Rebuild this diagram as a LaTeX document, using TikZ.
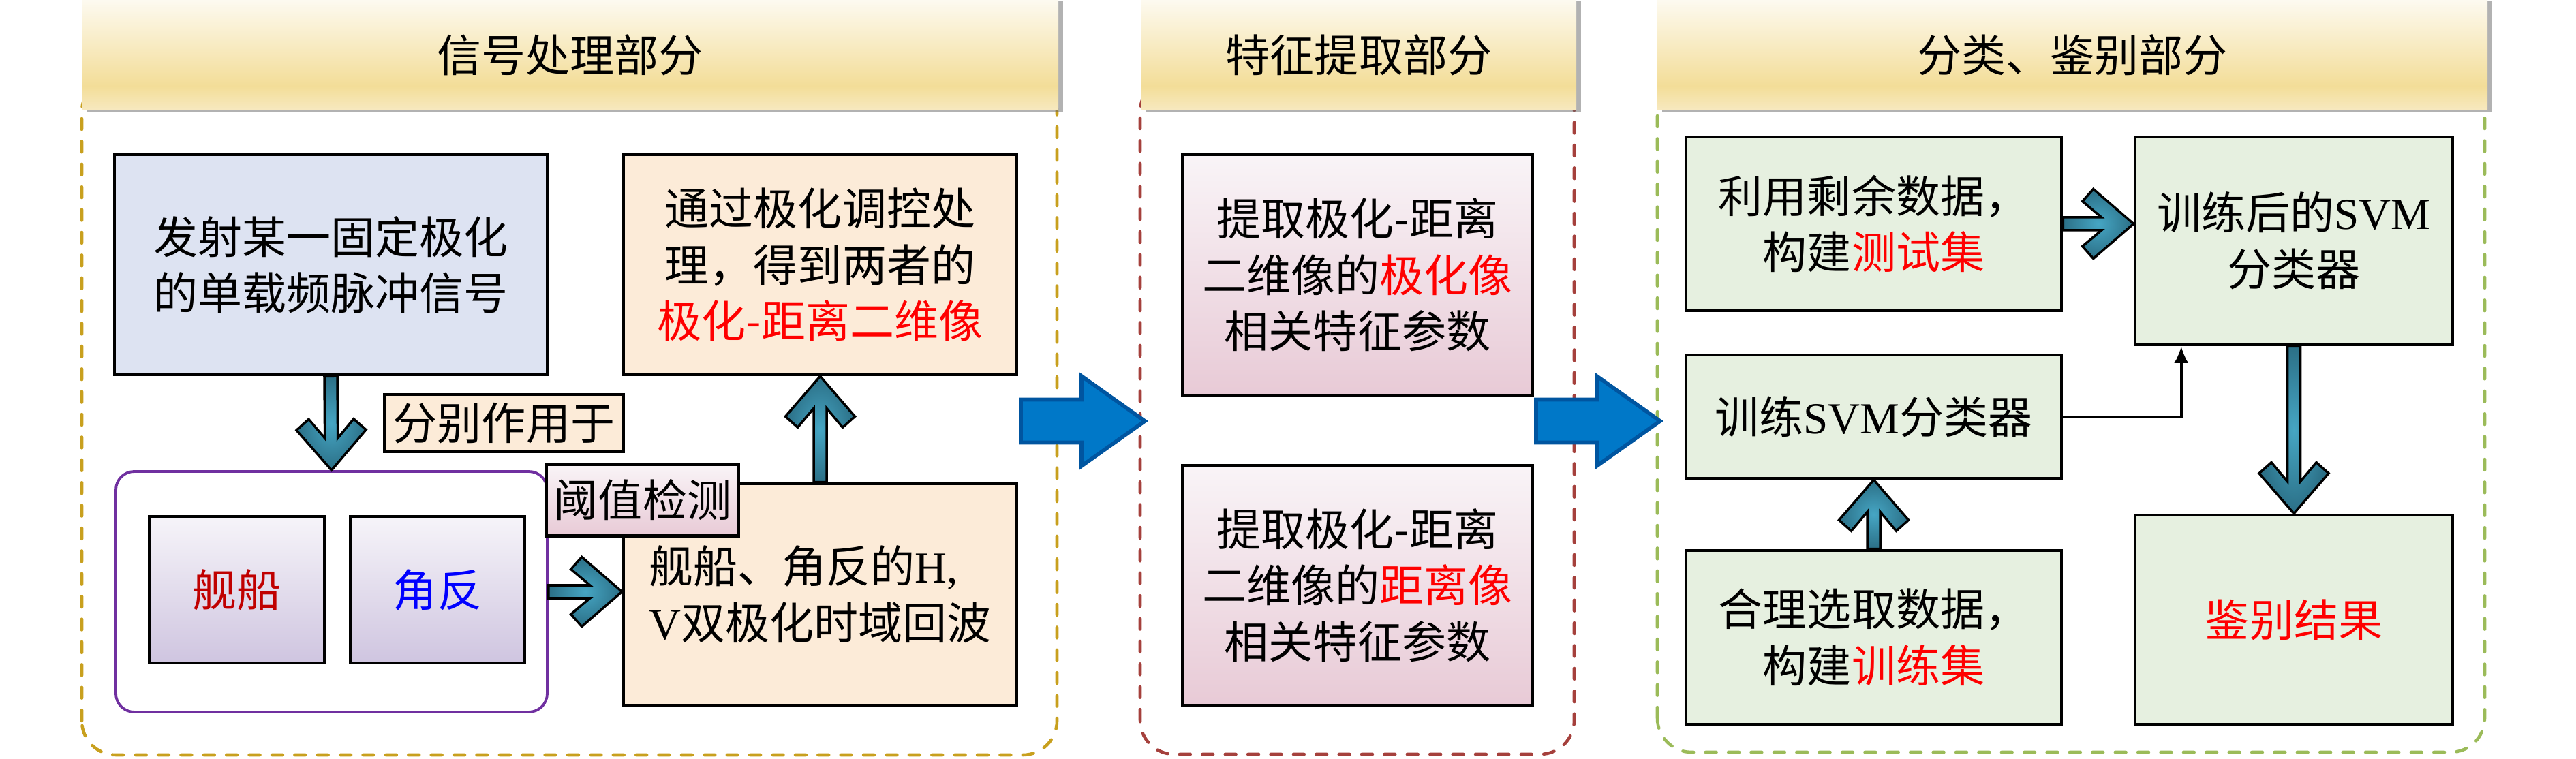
\documentclass[tikz,border=0pt]{standalone}
\usepackage{fontspec}
\usepackage{tikz}
\usetikzlibrary{calc}
\usetikzlibrary{shadows}
\usetikzlibrary{arrows.meta}
\usetikzlibrary{positioning}
\newfontfamily\cjk{Noto Sans CJK SC}
\newfontfamily\lat{Liberation Serif}
\definecolor{hdrTop}{RGB}{253,250,240}
\definecolor{hdrGold}{RGB}{243,221,152}
\definecolor{hdrBot}{RGB}{247,233,192}
\definecolor{frameGold}{RGB}{200,160,30}
\definecolor{frameRed}{RGB}{165,64,60}
\definecolor{frameGreen}{RGB}{155,187,89}
\definecolor{sendBlue}{RGB}{221,227,242}
\definecolor{resOrange}{RGB}{252,235,216}
\definecolor{pinkTop}{RGB}{249,244,247}
\definecolor{pinkBot}{RGB}{232,202,214}
\definecolor{lavTop}{RGB}{246,244,249}
\definecolor{lavBot}{RGB}{207,197,224}
\definecolor{svmGreen}{RGB}{230,240,224}
\definecolor{rimPurple}{RGB}{112,48,160}
\definecolor{shipRed}{RGB}{192,0,0}
\definecolor{tealDark}{RGB}{43,111,134}
\definecolor{tealLight}{RGB}{70,166,196}
\definecolor{bigFill}{RGB}{0,120,200}
\definecolor{bigLine}{RGB}{0,85,160}
\pgfdeclareverticalshading{hdrshade}{100bp}{color(0bp)=(hdrBot); color(25bp)=(hdrBot);
  color(36bp)=(hdrGold); color(75bp)=(hdrTop); color(100bp)=(hdrTop)}
\newcommand{\boxfont}{\cjk\fontsize{18.5}{23.5}\selectfont}
\newcommand{\chevarrow}[2]{%
  \filldraw[tealarrow] ($(#1)!0.095cm!90:(#2)$)
    -- ($(#2)!0.47cm!(#1)!0.095cm!90:(#2)$)
    -- ($(#2)!0.75cm!(#1)!0.33cm!90:(#2)$)
    -- ($(#2)!0.59cm!(#1)!0.51cm!90:(#2)$)
    -- (#2)
    -- ($(#2)!0.59cm!(#1)!0.51cm!-90:(#2)$)
    -- ($(#2)!0.75cm!(#1)!0.33cm!-90:(#2)$)
    -- ($(#2)!0.47cm!(#1)!0.095cm!-90:(#2)$)
    -- ($(#1)!0.095cm!-90:(#2)$) -- cycle;}

\begin{document}
\begin{tikzpicture}[
  box/.style={draw, line width=1.3pt, inner sep=0pt, align=center, font=\boxfont},
  header/.style={shading=hdrshade, inner sep=0pt, minimum height=1.62cm, font=\boxfont,
    drop shadow={shadow xshift=0.07cm, shadow yshift=-0.02cm, fill=black!60}},
  frame/.style={line width=1.3pt, dash pattern=on 4.5pt off 5pt, line cap=round, rounded corners=0.5cm},
  tealarrow/.style={line width=1pt, inner color=tealLight, outer color=tealDark},
  bigarrow/.style={fill=bigFill, draw=bigLine, line width=1.6pt, line join=miter}
]
  \useasboundingbox (0,0) rectangle (37.8,11.14);

  \draw[frame, frameGold]  (1.20,0.06) rectangle (15.51,10.0);
  \draw[frame, frameRed]   (16.73,0.07) rectangle (23.10,10.0);
  \draw[frame, frameGreen] (24.32,0.10) rectangle (36.46,10.0);

  \node[header, minimum width=14.33cm] (hdrsig) at (8.365,10.33) {信号处理部分};
  \node[header, minimum width=6.38cm]  (hdrfeat) at (19.94,10.33) {特征提取部分};
  \node[header, minimum width=12.18cm] (hdrcls) at (30.41,10.33) {分类、鉴别部分};

  \node[box, fill=sendBlue, minimum width=6.35cm, minimum height=3.23cm] (send) at (4.855,7.255)
    {发射某一固定极化\\的单载频脉冲信号};
  \node[box, fill=resOrange, minimum width=5.77cm, minimum height=3.23cm] (image) at (12.035,7.255)
    {通过极化调控处\\理，得到两者的\\\textcolor{red}{极化-距离二维像}};
  \node[box, fill=resOrange, minimum width=5.77cm, minimum height=3.25cm, align=left] (echo) at (12.035,2.415)
    {舰船、角反的{\lat H,}\\{\lat V}双极化时域回波};
  \node[draw=rimPurple, line width=1.1pt, rounded corners=0.27cm, fill=white,
    minimum width=6.33cm, minimum height=3.53cm] (target) at (4.865,2.455) {};
  \node[box, top color=lavTop, bottom color=lavBot, minimum width=2.57cm, minimum height=2.15cm] (ship) at (3.475,2.485)
    {\textcolor{shipRed}{舰船}};
  \node[box, top color=lavTop, bottom color=lavBot, minimum width=2.56cm, minimum height=2.15cm] (reflector) at (6.42,2.485)
    {\textcolor{blue}{角反}};

  \node[box, top color=pinkTop, bottom color=pinkBot, minimum width=5.14cm, minimum height=3.53cm] (polfeat) at (19.92,7.105)
    {提取极化-距离\\二维像的\textcolor{red}{极化像}\\相关特征参数};
  \node[box, top color=pinkTop, bottom color=pinkBot, minimum width=5.14cm, minimum height=3.52cm] (rngfeat) at (19.92,2.55)
    {提取极化-距离\\二维像的\textcolor{red}{距离像}\\相关特征参数};

  \node[box, fill=svmGreen, minimum width=5.51cm, minimum height=2.55cm] (testset) at (27.495,7.855)
    {利用剩余数据，\\构建\textcolor{red}{测试集}};
  \node[box, fill=svmGreen, minimum width=4.66cm, minimum height=3.05cm] (trained) at (33.66,7.605)
    {训练后的{\lat SVM}\\分类器};
  \node[box, fill=svmGreen, minimum width=5.51cm, minimum height=1.81cm] (train) at (27.495,5.025)
    {训练{\lat SVM}分类器};
  \node[box, fill=svmGreen, minimum width=5.51cm, minimum height=2.55cm] (trainset) at (27.495,1.785)
    {合理选取数据，\\构建\textcolor{red}{训练集}};
  \node[box, fill=svmGreen, minimum width=4.66cm, minimum height=3.07cm] (result) at (33.66,2.045)
    {\textcolor{red}{鉴别结果}};

  \coordinate (echoin) at (target.east -| echo.west);
  \coordinate (trainedin) at (testset.east -| trained.west);
  \coordinate (trainedbot) at ([xshift=0.70cm]trained.south west);
  \chevarrow{send.south}{target.north}
  \chevarrow{echo.north}{image.south}
  \chevarrow{target.east}{echoin}
  \chevarrow{testset.east}{trainedin}
  \chevarrow{trainset.north}{train.south}
  \chevarrow{trained.south}{result.north}
  \draw[-{Latex[length=7pt,width=6pt]}, line width=1pt] (train.east) -| (trainedbot);

  \node[box, fill=resOrange, minimum width=3.51cm, minimum height=0.84cm] (apply) at (7.395,4.93) {分别作用于};
  \node[box, top color=pinkTop, bottom color=pinkBot, minimum width=2.82cm, minimum height=1.05cm] (detect) at (9.43,3.80) {阈值检测};

  \coordinate (tipA) at (16.80,4.96);
  \coordinate (tipB) at (24.36,4.96);
  \foreach \t in {tipA, tipB} {
    \draw[bigarrow, shift={(\t)}] (-1.82,0.315) -- (-0.93,0.315) -- (-0.93,0.66) -- (0,0)
      -- (-0.93,-0.66) -- (-0.93,-0.315) -- (-1.82,-0.315) -- cycle;
  }
\end{tikzpicture}
\end{document}
